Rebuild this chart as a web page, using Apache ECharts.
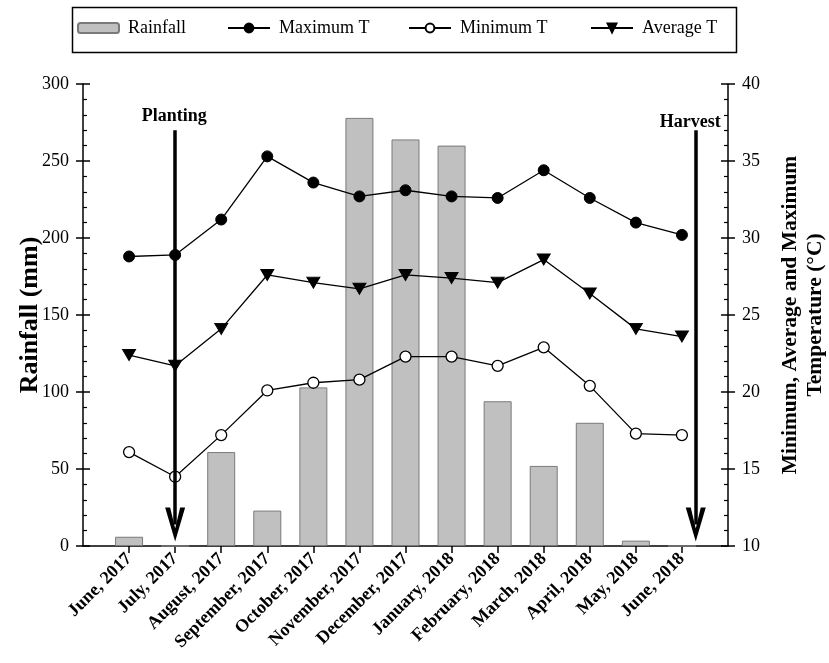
<!DOCTYPE html>
<html>
<head>
<meta charset="utf-8">
<script src="https://cdn.jsdelivr.net/npm/echarts@6/dist/echarts.min.js"></script>
<style>
html,body{margin:0;padding:0;background:#fff;}
#chart{width:829px;height:663px;}
</style>
</head>
<body>
<div id="chart"></div>
<script>
const months = ['June, 2017','July, 2017','August, 2017','September, 2017','October, 2017','November, 2017','December, 2017','January, 2018','February, 2018','March, 2018','April, 2018','May, 2018','June, 2018'];
const rainfall = [6, 0, 61, 23, 103, 278, 264, 260, 94, 52, 80, 3.5, 0];
const maxT = [28.8, 28.9, 31.2, 35.3, 33.6, 32.7, 33.1, 32.7, 32.6, 34.4, 32.6, 31.0, 30.2];
const minT = [16.1, 14.5, 17.2, 20.1, 20.6, 20.8, 22.3, 22.3, 21.7, 22.9, 20.4, 17.3, 17.2];
const avgT = [22.4, 21.7, 24.1, 27.6, 27.1, 26.7, 27.6, 27.4, 27.1, 28.6, 26.4, 24.1, 23.6];
const rainTicks = [0, 50, 100, 150, 200, 250, 300];
const tempTicks = [10, 15, 20, 25, 30, 35, 40];

const FONT = 'Liberation Serif';
// padded category list: an empty slot on each side of the months
const cats = [''].concat(months, ['']);
const pairs = arr => arr.map((v, i) => [i + 1, v]);
const chevron = 'path://M50,0 L100,100 L75,100 L50,38 L25,100 L0,100 Z';

const chart = echarts.init(document.getElementById('chart'), null, {renderer: 'canvas'});

const legendBase = {
  top: 19, padding: 0, itemWidth: 42, itemHeight: 11, itemGap: 8,
  textStyle: {fontFamily: FONT, fontSize: 18, color: '#000', padding: [0, 0, 0, 4]}, selectedMode: false
};

const yCommon = {
  nameMoveOverlap: false,
  axisLine: {show: true, onZero: false, lineStyle: {color: '#000', width: 1.5}},
  axisTick: {show: true, length: 7, lineStyle: {color: '#000', width: 1.5}},
  splitLine: {show: false}
};
const yOverlay = {
  offset: 0,
  axisLine: {show: false, onZero: false},
  axisTick: {show: true, inside: true, length: 7, lineStyle: {color: '#000', width: 1.5}},
  minorTick: {show: true, splitNumber: 5, length: 4, lineStyle: {color: '#000', width: 1.2}},
  axisLabel: {show: false}, splitLine: {show: false}
};

const option = {
  animation: false,
  backgroundColor: '#fff',
  textStyle: {fontFamily: FONT},
  graphic: [{
    type: 'rect', left: 70, top: 5,
    shape: {width: 664, height: 45},
    style: {fill: 'none', stroke: '#000', lineWidth: 1.5}
  }],
  legend: [
    Object.assign({}, legendBase, {left: 77, data: ['Rainfall'], itemWidth: 41, itemHeight: 10}),
    Object.assign({}, legendBase, {left: 227, data: ['Maximum T']}),
    Object.assign({}, legendBase, {left: 408, data: ['Minimum T']}),
    Object.assign({}, legendBase, {left: 590, data: ['Average T']})
  ],
  grid: {left: 83, right: 101, top: 84, bottom: 117, containLabel: false, outerBoundsMode: 'none'},
  xAxis: [
    {
      type: 'category', data: cats, boundaryGap: false,
      axisLine: {show: true, onZero: false, lineStyle: {color: '#000', width: 1.5}},
      axisTick: {show: true, length: 7, lineStyle: {color: '#000', width: 1.5},
        interval: (i, v) => v !== ''},
      axisLabel: {
        interval: 0, rotate: 45, margin: 10,
        fontFamily: FONT, fontSize: 18, fontWeight: 'bold', color: '#000'
      },
      splitLine: {show: false}
    },
    {
      // hidden helper axis in the same month-index units, for the annotations
      type: 'value', min: 0, max: cats.length - 1, show: false
    }
  ],
  yAxis: [
    Object.assign({}, yCommon, {
      type: 'value', position: 'left', min: 0, max: 300, interval: 50,
      name: 'Rainfall (mm)', nameLocation: 'middle', nameGap: 40, nameRotate: 90,
      nameTextStyle: {fontFamily: FONT, fontSize: 26, fontWeight: 'bold', color: '#000'},
      axisLabel: {margin: 14, fontFamily: FONT, fontSize: 18, color: '#000', customValues: rainTicks}
    }),
    Object.assign({}, yCommon, {
      type: 'value', position: 'right', min: 10, max: 40, interval: 5,
      name: 'Minimum, Average and Maximum\nTemperature (°C)', nameLocation: 'middle', nameGap: 50, nameRotate: 90,
      nameTextStyle: {fontFamily: FONT, fontSize: 21.5, fontWeight: 'bold', color: '#000', lineHeight: 25, align: 'center'},
      axisLabel: {margin: 14, fontFamily: FONT, fontSize: 18, color: '#000', customValues: tempTicks}
    }),
    Object.assign({}, yOverlay, {type: 'value', position: 'left', min: 0, max: 300, interval: 50}),
    Object.assign({}, yOverlay, {type: 'value', position: 'right', min: 10, max: 40, interval: 5})
  ],
  series: [
    {
      name: 'Rainfall', type: 'bar', yAxisIndex: 0, barWidth: 28,
      data: pairs(rainfall),
      itemStyle: {color: '#c0c0c0', borderColor: '#7a7a7a', borderWidth: 1},
      z: 1
    },
    {
      name: 'annotations', type: 'line', xAxisIndex: 1, yAxisIndex: 0, data: [],
      silent: true, z: 4,
      markLine: {
        silent: true, animation: false,
        symbol: ['none', chevron], symbolSize: [20, 34],
        label: {show: false},
        lineStyle: {color: '#000', width: 3.5, type: 'solid'},
        data: [
          [{coord: [2, 270]}, {coord: [2, 14]}],
          [{coord: [13.3, 270]}, {coord: [13.3, 14]}]
        ]
      },
      markPoint: {
        silent: true, animation: false,
        symbol: 'circle', symbolSize: 0,
        label: {show: true, position: 'inside', fontFamily: FONT, fontSize: 18, fontWeight: 'bold', color: '#000'},
        data: [
          {coord: [1.98, 279], label: {formatter: 'Planting'}},
          {coord: [13.18, 275], label: {formatter: 'Harvest'}}
        ]
      }
    },
    {
      name: 'Maximum T', type: 'line', yAxisIndex: 1, data: pairs(maxT),
      symbol: 'circle', symbolSize: 11,
      lineStyle: {color: '#000', width: 1.3},
      itemStyle: {color: '#000', borderColor: '#000', borderWidth: 1},
      z: 3
    },
    {
      name: 'Minimum T', type: 'line', yAxisIndex: 1, data: pairs(minT),
      symbol: 'circle', symbolSize: 11,
      lineStyle: {color: '#000', width: 1.3},
      itemStyle: {color: '#fff', borderColor: '#000', borderWidth: 1.3},
      z: 3
    },
    {
      name: 'Average T', type: 'line', yAxisIndex: 1, data: pairs(avgT),
      symbol: 'triangle', symbolSize: [13, 11], symbolRotate: 180,
      lineStyle: {color: '#000', width: 1.3},
      itemStyle: {color: '#000', borderColor: '#000', borderWidth: 1},
      z: 3
    }
  ]
};
chart.setOption(option);
</script>
</body>
</html>
